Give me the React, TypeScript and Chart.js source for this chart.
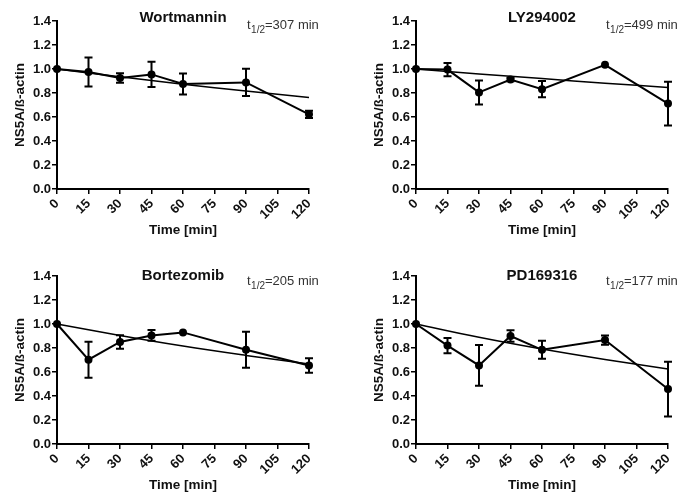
import React, { useEffect, useRef } from "react";
import { Chart, registerables } from "chart.js";

Chart.register(...registerables);

const times = [0, 15, 30, 45, 60, 90, 120];
const fitTimes = [0, 30, 60, 90, 120];
const xTicks = [0, 15, 30, 45, 60, 75, 90, 105, 120];
const yTicks = [0, 0.2, 0.4, 0.6, 0.8, 1.0, 1.2, 1.4];

const titles = ["Wortmannin", "LY294002", "Bortezomib", "PD169316"];
const halfLives = ["307", "499", "205", "177"];

const wortMean = [1.0, 0.975, 0.925, 0.955, 0.875, 0.888, 0.622];
const wortErr = [0.0, 0.12, 0.04, 0.105, 0.088, 0.114, 0.03];
const wortFit = [1.0, 0.935, 0.873, 0.816, 0.763];

const lyMean = [1.0, 0.995, 0.805, 0.912, 0.832, 1.035, 0.712];
const lyErr = [0.0, 0.055, 0.1, 0.015, 0.068, 0.0, 0.182];
const lyFit = [1.0, 0.959, 0.92, 0.882, 0.846];

const bortMean = [1.0, 0.703, 0.85, 0.905, 0.93, 0.786, 0.654];
const bortErr = [0.0, 0.15, 0.056, 0.044, 0.0, 0.15, 0.06];
const bortFit = [1.0, 0.904, 0.816, 0.738, 0.666];

const pdMean = [1.0, 0.82, 0.655, 0.9, 0.785, 0.866, 0.458];
const pdErr = [0.0, 0.064, 0.17, 0.048, 0.075, 0.038, 0.228];
const pdFit = [1.0, 0.889, 0.791, 0.704, 0.625];

const means = [wortMean, lyMean, bortMean, pdMean];
const errs = [wortErr, lyErr, bortErr, pdErr];
const fits = [wortFit, lyFit, bortFit, pdFit];

const FONT = "'Liberation Sans', Arial, Helvetica, sans-serif";

// layout per panel (local coordinates inside each 343x247 canvas)
const panelLayout = [
  { left: 57, top: 21, right: 34, xh: 58, titleY: 18, halfY: 29, px: 0, py: 0 },
  { left: 73, top: 21, right: 18, xh: 58, titleY: 18, halfY: 29, px: 343, py: 0 },
  { left: 57, top: 29, right: 34, xh: 50, titleY: 29, halfY: 38, px: 0, py: 247 },
  { left: 73, top: 29, right: 18, xh: 50, titleY: 29, halfY: 38, px: 343, py: 247 },
];

const decoPlugin = {
  id: "deco",
  beforeDatasetsDraw(chart: any, _a: any, opts: any) {
    const ctx = chart.ctx;
    const xs = chart.scales.x;
    const ys = chart.scales.y;
    ctx.save();
    ctx.strokeStyle = "#000";
    ctx.lineWidth = 2;
    opts.means.forEach((m: number, i: number) => {
      const e = opts.errs[i];
      if (!e) return;
      const x = xs.getPixelForValue(times[i]);
      const yt = ys.getPixelForValue(m + e);
      const yb = ys.getPixelForValue(m - e);
      ctx.beginPath();
      ctx.moveTo(x, yt);
      ctx.lineTo(x, yb);
      ctx.moveTo(x - 4, yt);
      ctx.lineTo(x + 4, yt);
      ctx.moveTo(x - 4, yb);
      ctx.lineTo(x + 4, yb);
      ctx.stroke();
    });
    ctx.restore();
  },
  afterDraw(chart: any, _a: any, opts: any) {
    const ctx = chart.ctx;
    const ca = chart.chartArea;
    ctx.save();
    ctx.fillStyle = "#111";
    // title
    ctx.font = `bold 15px ${FONT}`;
    ctx.textAlign = "center";
    ctx.textBaseline = "middle";
    ctx.fillText(opts.title, (ca.left + ca.right) / 2, opts.titleY);
    // x axis title
    ctx.font = `bold 13.5px ${FONT}`;
    ctx.fillText("Time [min]", (ca.left + ca.right) / 2, ca.bottom + 41);
    // y axis title
    ctx.save();
    ctx.translate(ca.left - 37, (ca.top + ca.bottom) / 2);
    ctx.rotate(-Math.PI / 2);
    ctx.fillText("NS5A/ß-actin", 0, 0);
    ctx.restore();
    // half life
    ctx.fillStyle = "#333";
    ctx.textAlign = "left";
    ctx.textBaseline = "alphabetic";
    let x = ca.right - 62;
    const b = opts.halfY;
    ctx.font = `13px ${FONT}`;
    ctx.fillText("t", x, b);
    x += ctx.measureText("t").width + 0.5;
    ctx.font = `10px ${FONT}`;
    ctx.fillText("1/2", x, b + 4);
    x += ctx.measureText("1/2").width;
    ctx.font = `13px ${FONT}`;
    ctx.fillText("=" + opts.half + " min", x, b);
    ctx.restore();
  },
};

function Panel({ idx }: { idx: number }) {
  const ref = useRef<HTMLCanvasElement | null>(null);
  useEffect(() => {
    const L = panelLayout[idx];
    const tickFont = { family: FONT, size: 13, weight: "bold" as const };
    const chart = new Chart(ref.current as HTMLCanvasElement, {
      type: "line",
      data: {
        datasets: [
          {
            data: times.map((t, i) => ({ x: t, y: means[idx][i] })),
            borderColor: "#000",
            backgroundColor: "#000",
            borderWidth: 2,
            pointRadius: 4,
            pointBackgroundColor: "#000",
            pointBorderWidth: 0,
            tension: 0,
            clip: false as any,
          },
          {
            data: fitTimes.map((t, i) => ({ x: t, y: fits[idx][i] })),
            borderColor: "#000",
            borderWidth: 1.5,
            pointRadius: 0,
            tension: 0.4,
            clip: false as any,
          },
        ],
      },
      options: {
        animation: false,
        responsive: false,
        devicePixelRatio: 1,
        layout: { padding: { left: 0, top: L.top, right: L.right, bottom: 0 } },
        plugins: {
          legend: { display: false },
          tooltip: { enabled: false },
          title: { display: false },
          deco: {
            title: titles[idx],
            half: halfLives[idx],
            means: means[idx],
            errs: errs[idx],
            titleY: L.titleY,
            halfY: L.halfY,
          },
        } as any,
        scales: {
          x: {
            type: "linear",
            min: 0,
            max: 120,
            afterFit: (s: any) => {
              s.height = L.xh;
            },
            afterBuildTicks: (s: any) => {
              s.ticks = xTicks.map((v) => ({ value: v }));
            },
            ticks: {
              font: tickFont,
              color: "#111",
              minRotation: 45,
              maxRotation: 45,
              padding: 2,
              callback: (v: any) => String(v),
            },
            grid: {
              drawOnChartArea: false,
              drawTicks: true,
              tickLength: 5,
              color: "#000",
              lineWidth: 1.5,
            },
            border: { display: true, color: "#000", width: 2 },
          },
          y: {
            type: "linear",
            min: 0,
            max: 1.4,
            afterFit: (s: any) => {
              s.width = L.left;
            },
            afterBuildTicks: (s: any) => {
              s.ticks = yTicks.map((v) => ({ value: v }));
            },
            ticks: {
              font: tickFont,
              color: "#111",
              padding: 1,
              callback: (v: any) => Number(v).toFixed(1),
            },
            grid: {
              drawOnChartArea: false,
              drawTicks: true,
              tickLength: 5,
              color: "#000",
              lineWidth: 1.5,
            },
            border: { display: true, color: "#000", width: 2 },
          },
        },
      },
      plugins: [decoPlugin as any],
    });
    return () => chart.destroy();
  }, [idx]);
  const L = panelLayout[idx];
  return (
    <canvas
      ref={ref}
      width={343}
      height={247}
      style={{ position: "absolute", left: L.px, top: L.py, width: 343, height: 247 }}
    />
  );
}

export default function App() {
  return (
    <div
      style={{
        position: "absolute",
        left: 0,
        top: 0,
        width: 686,
        height: 494,
        background: "#fff",
        overflow: "hidden",
      }}
    >
      {[0, 1, 2, 3].map((i) => (
        <Panel key={i} idx={i} />
      ))}
    </div>
  );
}
